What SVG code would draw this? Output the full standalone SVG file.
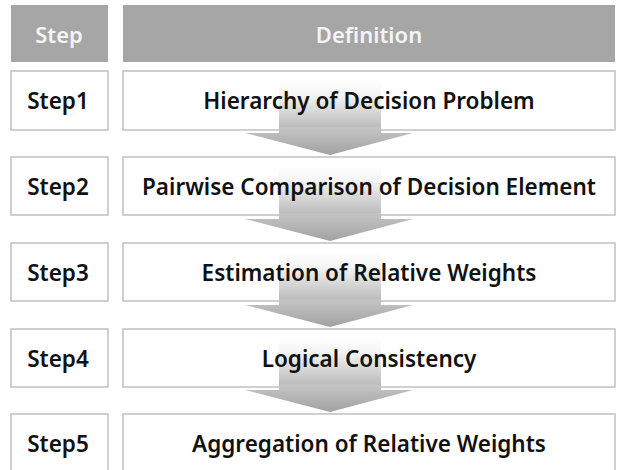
<svg xmlns="http://www.w3.org/2000/svg" width="618" height="470" viewBox="0 0 618 470">
  <defs>
    <style>
      .hdr { fill: #a6a6a6; }
      .hdr-txt { fill: #f4f4f4; font-family: "Noto Sans", "Open Sans", sans-serif; font-weight: 600; font-size: 22px; text-anchor: middle; }
      .box { fill: none; stroke: #c0c0c0; stroke-width: 1.5; }
      .txt { fill: #111111; font-family: "Noto Sans", "Open Sans", sans-serif; font-weight: 600; font-size: 22.5px; text-anchor: middle; }
    </style>
    <!-- vertical fade for the flow arrows: white at the top of the shaft, grey at the tip -->
    <linearGradient id="arrowFill" x1="0" y1="0" x2="0" y2="1">
      <stop offset="0" stop-color="#ffffff"/>
      <stop offset="0.2" stop-color="#f4f4f4"/>
      <stop offset="0.62" stop-color="#bdbdbd"/>
      <stop offset="0.64" stop-color="#c4c4c4"/>
      <stop offset="1" stop-color="#a2a2a2"/>
    </linearGradient>
    <path id="flowArrow" d="M279,0 H381 V53 H413 L330,75 L245,53 H279 Z" fill="url(#arrowFill)"/>
  </defs>

  <rect x="0" y="0" width="618" height="470" fill="#ffffff"/>

  <!-- flow arrows sit behind the row frames and labels -->
  <g id="connectors">
    <use href="#flowArrow" transform="translate(0,80)"/>
    <use href="#flowArrow" transform="translate(0,166)"/>
    <use href="#flowArrow" transform="translate(0,252)"/>
    <use href="#flowArrow" transform="translate(0,337)"/>
  </g>

  <g id="header-step">
    <rect class="hdr" x="11" y="5" width="97" height="57"/>
    <text class="hdr-txt" x="59" y="43">Step</text>
  </g>
  <g id="header-definition">
    <rect class="hdr" x="123" y="5" width="492" height="57"/>
    <text class="hdr-txt" x="369" y="43">Definition</text>
  </g>

  <g id="step1">
    <rect class="box" x="11" y="71" width="97" height="59"/>
    <text class="txt" x="58" y="109">Step1</text>
    <rect class="box" x="123" y="71" width="492" height="59"/>
    <text class="txt" x="369" y="109">Hierarchy of Decision Problem</text>
  </g>
  <g id="step2">
    <rect class="box" x="11" y="157" width="97" height="58"/>
    <text class="txt" x="58" y="195">Step2</text>
    <rect class="box" x="123" y="157" width="492" height="58"/>
    <text class="txt" x="369" y="195">Pairwise Comparison of Decision Element</text>
  </g>
  <g id="step3">
    <rect class="box" x="11" y="243" width="97" height="58"/>
    <text class="txt" x="58" y="281">Step3</text>
    <rect class="box" x="123" y="243" width="492" height="58"/>
    <text class="txt" x="369" y="281">Estimation of Relative Weights</text>
  </g>
  <g id="step4">
    <rect class="box" x="11" y="329" width="97" height="58"/>
    <text class="txt" x="58" y="367">Step4</text>
    <rect class="box" x="123" y="329" width="492" height="58"/>
    <text class="txt" x="369" y="367">Logical Consistency</text>
  </g>
  <g id="step5">
    <rect class="box" x="11" y="414" width="97" height="70"/>
    <text class="txt" x="58" y="452">Step5</text>
    <rect class="box" x="123" y="414" width="492" height="70"/>
    <text class="txt" x="369" y="452">Aggregation of Relative Weights</text>
  </g>
</svg>
